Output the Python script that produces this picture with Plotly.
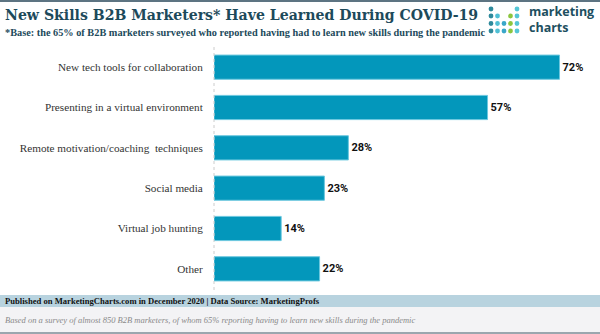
import plotly.graph_objects as go

categories = [
    "New tech tools for collaboration",
    "Presenting in a virtual environment",
    "Remote motivation/coaching  techniques",
    "Social media",
    "Virtual job hunting",
    "Other",
]
values = [72, 57, 28, 23, 14, 22]

title = "New Skills B2B Marketers* Have Learned During COVID-19"
subtitle = "*Base: the 65% of B2B marketers surveyed who reported having had to learn new skills during the pandemic"
footer1 = "Published on MarketingCharts.com in December 2020 | Data Source: MarketingProfs"
footer2 = "Based on a survey of almost 850 B2B marketers, of whom 65% reporting having to learn new skills during the pandemic"

W, H = 600, 334
L, R, T, B = 214, 4, 47, 45
PW, PH = W - L - R, H - T - B


def px(x):
    return (x - L) / PW


def py(y):
    return (H - B - y) / PH


fig = go.Figure()
fig.add_trace(go.Bar(
    y=categories,
    x=values,
    orientation="h",
    marker=dict(color="#0397bb", line=dict(color="#6cc8df", width=1)),
    text=[f"{v}%" for v in values],
    textposition="outside",
    textfont=dict(family="Roboto", size=11, color="#111111", weight="bold"),
    cliponaxis=False,
    width=0.6,
))

shapes = []
# top border
shapes.append(dict(type="rect", xref="paper", yref="paper", x0=px(0), x1=px(W), y0=py(2), y1=py(0),
                   fillcolor="#5d7482", line=dict(width=0), layer="below"))
# dotted axis line
shapes.append(dict(type="line", xref="paper", yref="paper", x0=0, x1=0, y0=py(290), y1=py(47),
                   line=dict(color="#cccccc", width=1, dash="dot")))
# footer bands
shapes.append(dict(type="rect", xref="paper", yref="paper", x0=px(0), x1=px(W), y0=py(307), y1=py(295),
                   fillcolor="#b8d3df", line=dict(width=0), layer="below"))
shapes.append(dict(type="rect", xref="paper", yref="paper", x0=px(0), x1=px(W), y0=py(332), y1=py(307),
                   fillcolor="#f3f3f5", line=dict(width=0), layer="below"))
shapes.append(dict(type="rect", xref="paper", yref="paper", x0=px(0), x1=px(W), y0=py(334), y1=py(332),
                   fillcolor="#9aa6ae", line=dict(width=0), layer="below"))

# logo dots
cols = [491, 497.5, 504, 510.5, 517]
rows = [9, 16, 23.5, 31]
col_colors = ["#2f8a9c", "#4fbfd4", "#3aa7c9", "#8cc63f", "#55c6d6"]
pattern = [
    [1, 0, 0, 0, 1],
    [1, 1, 0, 1, 1],
    [1, 1, 1, 1, 1],
    [1, 1, 1, 1, 1],
]
rr = 2.4
for ri, row in enumerate(pattern):
    for ci, on in enumerate(row):
        if on:
            cx, cy = cols[ci], rows[ri]
            shapes.append(dict(type="circle", xref="paper", yref="paper",
                               x0=px(cx - rr), x1=px(cx + rr), y0=py(cy + rr), y1=py(cy - rr),
                               fillcolor=col_colors[ci], line=dict(width=0)))

annotations = [
    dict(text=title, x=px(3), y=py(15), xref="paper", yref="paper", xanchor="left", yanchor="middle",
         showarrow=False, font=dict(family="DejaVu Serif", size=14.1, color="#1d4a5b", weight="bold")),
    dict(text=subtitle, x=px(3), y=py(33), xref="paper", yref="paper", xanchor="left", yanchor="middle",
         showarrow=False, font=dict(family="Liberation Serif", size=10.3, color="#1d4a5b", weight="bold")),
    dict(text="marketing", x=px(527), y=py(11), xref="paper", yref="paper", xanchor="left", yanchor="middle",
         showarrow=False, font=dict(family="Open Sans", size=12.5, color="#1d4f60", weight="bold")),
    dict(text="charts", x=px(527), y=py(28), xref="paper", yref="paper", xanchor="left", yanchor="middle",
         showarrow=False, font=dict(family="Open Sans", size=12.5, color="#1d4f60", weight="bold")),
    dict(text=footer1, x=px(3), y=py(301), xref="paper", yref="paper", xanchor="left", yanchor="middle",
         showarrow=False, font=dict(family="Liberation Serif", size=8.6, color="#111111", weight="bold")),
    dict(text=footer2, x=px(3), y=py(319.5), xref="paper", yref="paper", xanchor="left", yanchor="middle",
         showarrow=False, font=dict(family="Liberation Serif", size=8.5, color="#8a8a8a", style="italic")),
]

fig.update_layout(
    width=W, height=H,
    margin=dict(l=L, r=R, t=T, b=B, pad=0),
    paper_bgcolor="white", plot_bgcolor="white",
    showlegend=False,
    bargap=0.4,
    shapes=shapes,
    annotations=annotations,
    xaxis=dict(range=[0, 79.6], showgrid=False, zeroline=False, showticklabels=False, showline=False, fixedrange=True),
    yaxis=dict(autorange="reversed", showgrid=False, zeroline=False, showline=False,
               ticks="outside", ticklen=8, tickcolor="rgba(0,0,0,0)",
               tickfont=dict(family="Liberation Serif", size=11.2, color="#333333")),
)

fig.write_html("out.html", config={"displayModeBar": False})
